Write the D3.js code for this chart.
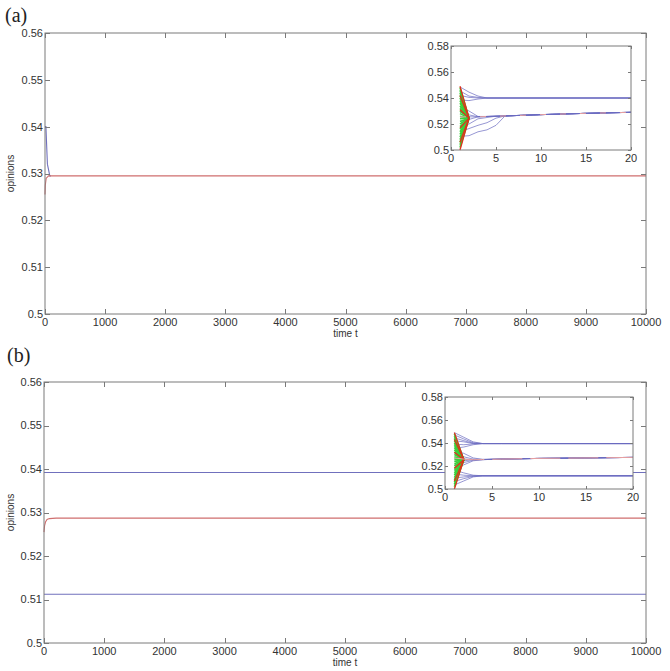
<!DOCTYPE html>
<html>
<head>
<meta charset="utf-8">
<script src="https://cdn.jsdelivr.net/npm/d3@7"></script>
<style>
  body { margin: 0; background: #fff; }
  svg { display: block; }
  text { font-family: "Liberation Sans", Arial, sans-serif; fill: #333; }
</style>
</head>
<body>
<svg id="chart" width="670" height="671"></svg>
<script>
// ---- data ----
var mainXTicks = [0, 1000, 2000, 3000, 4000, 5000, 6000, 7000, 8000, 9000, 10000];
var mainYTicks = [0.5, 0.51, 0.52, 0.53, 0.54, 0.55, 0.56];
var insetXTicks = [0, 5, 10, 15, 20];
var insetYTicks = [0.5, 0.52, 0.54, 0.56, 0.58];

// panel (a), long run (blue is hidden under red once merged)
var mainABlueT = [0, 15, 40, 80, 100];
var mainABlueV = [0.540, 0.540, 0.532, 0.5295, 0.5295];
var mainARedT = [0, 5, 20, 60, 10000];
var mainARedV = [0.5255, 0.5275, 0.529, 0.5295, 0.5295];

// panel (b), long run
var mainBBlueHighT = [0, 10000];
var mainBBlueHighV = [0.5392, 0.5392];
var mainBBlueLowT = [0, 10000];
var mainBBlueLowV = [0.5112, 0.5112];
var mainBRedT = [0, 10, 25, 50, 90, 200, 10000];
var mainBRedV = [0.5255, 0.527, 0.5278, 0.5284, 0.5286, 0.5287, 0.5287];

// inset trajectories, t = 1 .. 20
var insetT = [1, 2, 3, 4, 5, 6, 10, 15, 20];

var insetABlue = [
  [0.5485, 0.5445, 0.5415, 0.540, 0.540, 0.540, 0.540, 0.540, 0.540],
  [0.5455, 0.5415, 0.5405, 0.540, 0.540, 0.540, 0.540, 0.540, 0.540],
  [0.542, 0.5405, 0.540, 0.540, 0.540, 0.540, 0.540, 0.540, 0.540],
  [0.5385, 0.538, 0.5392, 0.540, 0.540, 0.540, 0.540, 0.540, 0.540],
  [0.533, 0.530, 0.5258, 0.5258, 0.526, 0.5262, 0.5272, 0.5282, 0.529],
  [0.529, 0.527, 0.5256, 0.5258, 0.526, 0.5262, 0.5272, 0.5282, 0.529],
  [0.5255, 0.5255, 0.5255, 0.5258, 0.526, 0.5262, 0.5272, 0.5282, 0.529],
  [0.522, 0.5235, 0.5255, 0.5258, 0.526, 0.5262, 0.5272, 0.5282, 0.529],
  [0.5175, 0.520, 0.524, 0.525, 0.526, 0.5262, 0.5272, 0.5282, 0.529],
  [0.514, 0.5165, 0.519, 0.521, 0.5245, 0.5262, 0.5272, 0.5282, 0.529],
  [0.5105, 0.511, 0.514, 0.5155, 0.519, 0.5262, 0.5272, 0.5282, 0.529]
];
var insetBBlue = [
  [0.549, 0.545, 0.541, 0.5395, 0.5395, 0.5395, 0.5395, 0.5395, 0.5395],
  [0.547, 0.5435, 0.5402, 0.5395, 0.5395, 0.5395, 0.5395, 0.5395, 0.5395],
  [0.5445, 0.542, 0.5398, 0.5395, 0.5395, 0.5395, 0.5395, 0.5395, 0.5395],
  [0.542, 0.541, 0.5395, 0.5395, 0.5395, 0.5395, 0.5395, 0.5395, 0.5395],
  [0.539, 0.5385, 0.5392, 0.5395, 0.5395, 0.5395, 0.5395, 0.5395, 0.5395],
  [0.5355, 0.5365, 0.5385, 0.5395, 0.5395, 0.5395, 0.5395, 0.5395, 0.5395],
  [0.534, 0.531, 0.527, 0.5258, 0.5258, 0.526, 0.5266, 0.527, 0.5275],
  [0.5305, 0.528, 0.526, 0.5257, 0.5258, 0.526, 0.5266, 0.527, 0.5275],
  [0.527, 0.526, 0.5255, 0.5256, 0.5258, 0.526, 0.5266, 0.527, 0.5275],
  [0.524, 0.5245, 0.5255, 0.5256, 0.5258, 0.526, 0.5266, 0.527, 0.5275],
  [0.521, 0.523, 0.525, 0.5255, 0.5258, 0.526, 0.5266, 0.527, 0.5275],
  [0.518, 0.521, 0.5245, 0.5255, 0.5258, 0.526, 0.5266, 0.527, 0.5275],
  [0.5165, 0.514, 0.512, 0.5115, 0.5115, 0.5115, 0.5115, 0.5115, 0.5115],
  [0.513, 0.512, 0.5115, 0.5115, 0.5115, 0.5115, 0.5115, 0.5115, 0.5115],
  [0.5095, 0.5105, 0.5113, 0.5115, 0.5115, 0.5115, 0.5115, 0.5115, 0.5115],
  [0.5065, 0.509, 0.511, 0.5115, 0.5115, 0.5115, 0.5115, 0.5115, 0.5115],
  [0.5035, 0.507, 0.5105, 0.5115, 0.5115, 0.5115, 0.5115, 0.5115, 0.5115]
];

// early fans: value at t=1, all meeting at the fan end at t=2
var fanT = [1, 2];
var insetAGreen = [0.502, 0.504, 0.506, 0.508, 0.510, 0.512, 0.514, 0.516, 0.518, 0.520,
                   0.522, 0.524, 0.526, 0.528, 0.530, 0.532, 0.534, 0.536, 0.538, 0.540,
                   0.542, 0.544, 0.546, 0.548];
var insetARed = [0.500, 0.506, 0.517, 0.531, 0.542, 0.549];
var insetAFanEnd = 0.5245;
var insetBGreen = [0.502, 0.504, 0.506, 0.508, 0.510, 0.512, 0.514, 0.516, 0.518, 0.520,
                   0.522, 0.524, 0.526, 0.528, 0.530, 0.532, 0.534, 0.536, 0.538, 0.540,
                   0.542, 0.544, 0.546, 0.548];
var insetBRed = [0.500, 0.507, 0.518, 0.532, 0.543, 0.549];
var insetBFanEnd = 0.5255;

// ---- drawing ----
var svg = d3.select("#chart");
var axisColor = "#7a7a7a";
var blue = "#7070bd", red = "#cf6f6f";

function frame(g, x, y, tickLen, xTicks, yTicks, fontSize, xFmt, yFmt) {
  var x0 = x.range()[0], x1 = x.range()[1], y0 = y.range()[0], y1 = y.range()[1];
  g.append("rect").attr("x", x0).attr("y", y1).attr("width", x1 - x0).attr("height", y0 - y1)
    .attr("fill", "none").attr("stroke", axisColor).attr("stroke-width", 1);
  xTicks.forEach(function(t) {
    var px = Math.round(x(t)) + 0.5;
    g.append("line").attr("x1", px).attr("x2", px).attr("y1", y0).attr("y2", y0 - tickLen).attr("stroke", axisColor);
    g.append("line").attr("x1", px).attr("x2", px).attr("y1", y1).attr("y2", y1 + tickLen).attr("stroke", axisColor);
    g.append("text").attr("x", x(t)).attr("y", y0 + fontSize + 1).attr("text-anchor", "middle")
      .attr("font-size", fontSize).text(xFmt(t));
  });
  yTicks.forEach(function(v) {
    var py = Math.round(y(v)) + 0.5;
    g.append("line").attr("x1", x0).attr("x2", x0 + tickLen).attr("y1", py).attr("y2", py).attr("stroke", axisColor);
    g.append("line").attr("x1", x1).attr("x2", x1 - tickLen).attr("y1", py).attr("y2", py).attr("stroke", axisColor);
    g.append("text").attr("x", x0 - 2).attr("y", y(v) + fontSize * 0.35).attr("text-anchor", "end")
      .attr("font-size", fontSize).text(yFmt(v));
  });
}

function series(g, x, y, ts, vs, color, width, dash) {
  var line = d3.line().x(function(d) { return x(d[0]); }).y(function(d) { return y(d[1]); });
  var p = g.append("path").datum(d3.zip(ts, vs)).attr("d", line)
    .attr("fill", "none").attr("stroke", color).attr("stroke-width", width || 1);
  if (dash) p.attr("stroke-dasharray", dash);
}

function panel(cfg) {
  var g = svg.append("g");
  var x = d3.scaleLinear().domain([0, 10000]).range([cfg.main.left, cfg.main.right]);
  var y = d3.scaleLinear().domain([0.5, 0.56]).range([cfg.main.bottom, cfg.main.top]);
  var fmt = function(v) { return String(+v.toFixed(3)); };

  cfg.mainLines.forEach(function(s) { series(g, x, y, s.t, s.v, s.color, 1.1); });
  frame(g, x, y, 5, mainXTicks, mainYTicks, 11, fmt, fmt);

  g.append("text").attr("x", (cfg.main.left + cfg.main.right) / 2).attr("y", cfg.main.bottom + 23)
    .attr("text-anchor", "middle").attr("font-size", 10).text("time t");
  g.append("text").attr("transform", "translate(14," + ((cfg.main.top + cfg.main.bottom) / 2) + ") rotate(-90)")
    .attr("text-anchor", "middle").attr("font-size", 10).text("opinions");
  g.append("text").attr("x", cfg.label.x).attr("y", cfg.label.y)
    .style("font-family", "'Liberation Serif', 'DejaVu Serif', serif").attr("font-size", 20).style("fill", "#222")
    .text(cfg.label.text);

  // inset
  var ix = d3.scaleLinear().domain([0, 20]).range([cfg.inset.left, cfg.inset.right]);
  var iy = d3.scaleLinear().domain([0.5, 0.58]).range([cfg.inset.bottom, cfg.inset.top]);
  var ig = g.append("g");
  ig.append("rect").attr("x", cfg.inset.left).attr("y", cfg.inset.top)
    .attr("width", cfg.inset.right - cfg.inset.left).attr("height", cfg.inset.bottom - cfg.inset.top)
    .attr("fill", "#fff");
  cfg.blue.forEach(function(vs) { series(ig, ix, iy, insetT, vs, "#6a6ac0", 0.7); });
  cfg.green.forEach(function(v0) {
    series(ig, ix, iy, fanT, [v0, cfg.fanEnd], "#3ad03a", 1.6);
  });
  cfg.red.forEach(function(v0) {
    series(ig, ix, iy, fanT, [v0, cfg.fanEnd], "#e0301c", 1.3);
  });
  // the merged middle cluster, drawn red over blue
  series(ig, ix, iy, insetT, cfg.blue[cfg.mergedIndex], "#e8a0a0", 1, cfg.mergedDash);
  frame(ig, ix, iy, 3, insetXTicks, insetYTicks, 11,
        function(t) { return String(t); }, function(v) { return String(+v.toFixed(2)); });
}

panel({
  main: { left: 45, top: 33, right: 646, bottom: 314 },
  inset: { left: 451, top: 46, right: 631, bottom: 150 },
  label: { x: 5, y: 22, text: "(a)" },
  mainLines: [
    { t: mainABlueT, v: mainABlueV, color: blue },
    { t: mainARedT, v: mainARedV, color: red }
  ],
  blue: insetABlue, green: insetAGreen, red: insetARed, fanEnd: insetAFanEnd,
  mergedIndex: 6, mergedDash: "6,14"
});

panel({
  main: { left: 44, top: 382, right: 646, bottom: 643 },
  inset: { left: 445, top: 397, right: 633, bottom: 489 },
  label: { x: 7, y: 362, text: "(b)" },
  mainLines: [
    { t: mainBBlueHighT, v: mainBBlueHighV, color: blue },
    { t: mainBBlueLowT, v: mainBBlueLowV, color: blue },
    { t: mainBRedT, v: mainBRedV, color: red }
  ],
  blue: insetBBlue, green: insetBGreen, red: insetBRed, fanEnd: insetBFanEnd,
  mergedIndex: 8, mergedDash: "30,8"
});
</script>
</body>
</html>
